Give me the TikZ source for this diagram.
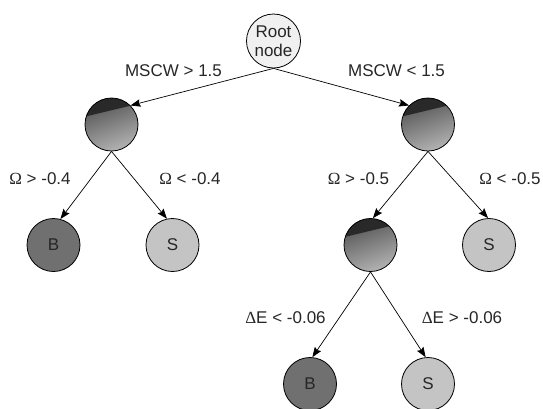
\documentclass[tikz,border=0pt]{standalone}
\usepackage{fontspec}
\setmainfont{Liberation Sans}
\newfontfamily\symbfont{Liberation Serif}
\usetikzlibrary{arrows.meta}

\begin{document}
\begin{tikzpicture}[x=1pt, y=1pt,
  every node/.style = {font=\fontsize{17}{19}\selectfont, text=black!85},
  rootnode/.style = {shape=circle, draw, line width=0.8pt, align=center,
    fill=black!6, minimum size=54pt, inner sep=0pt},
  split/.style = {shape=circle, draw, line width=0.8pt,
    minimum size=53pt, inner sep=0pt,
    top color=black!68, bottom color=black!30, shading angle=20,
    path picture={
      \fill[black!84] ([shift={(162:26.5pt)}]path picture bounding box.center)
        -- (path picture bounding box.north west)
        -- (path picture bounding box.north east)
        -- ([shift={(45:26.5pt)}]path picture bounding box.center) -- cycle;}},
  leafb/.style = {shape=circle, draw, line width=0.8pt,
    fill=black!56, minimum size=53pt, inner sep=0pt},
  leafs/.style = {shape=circle, draw, line width=0.8pt,
    fill=black!23, minimum size=53pt, inner sep=0pt},
  branch/.style = {draw, line width=0.7pt,
    -{Stealth[length=10pt, width=7.5pt, inset=1.5pt]}},
  cond/.style = {anchor=base, inner sep=0pt}]

  \useasboundingbox (0,0) rectangle (543,-408);

  \node[rootnode] (root) at (273.5,-41) {Root\\node};
  \node[split] (mscwgt) at (111.5,-124.5) {};
  \node[split] (mscwlt) at (428,-124.5) {};
  \node[leafb] (omgtb) at (53.5,-245) {B};
  \node[leafs] (omlts) at (172.5,-245) {S};
  \node[split] (omgt) at (370.5,-245) {};
  \node[leafs] (omltsr) at (489,-245) {S};
  \node[leafb] (delb) at (310,-384) {B};
  \node[leafs] (degs) at (428,-384) {S};

  \node[cond] (c1) at (173.5,-76) {MSCW > 1.5};
  \node[cond] (c2) at (396.5,-76) {MSCW < 1.5};
  \node[cond] (c3) at (40,-184) {{\symbfont Ω} > -0.4};
  \node[cond] (c4) at (190,-184) {{\symbfont Ω} < -0.4};
  \node[cond] (c5) at (358.5,-184) {{\symbfont Ω} > -0.5};
  \node[cond] (c6) at (510,-184) {{\symbfont Ω} < -0.5};
  \node[cond] (c7) at (285.5,-323) {{\symbfont Δ}E < -0.06};
  \node[cond] (c8) at (462,-323) {{\symbfont Δ}E > -0.06};

  \draw[branch] (root.south) -- (mscwgt.45);
  \draw[branch] (root.south) -- (mscwlt.135);
  \draw[branch] (mscwgt.south) -- (omgtb.75);
  \draw[branch] (mscwgt.south) -- (omlts.102);
  \draw[branch] (mscwlt.south) -- (omgt.85);
  \draw[branch] (mscwlt.south) -- (omltsr.92);
  \draw[branch] (omgt.south) -- (delb.85);
  \draw[branch] (omgt.south) -- (degs.95);

\end{tikzpicture}
\end{document}
